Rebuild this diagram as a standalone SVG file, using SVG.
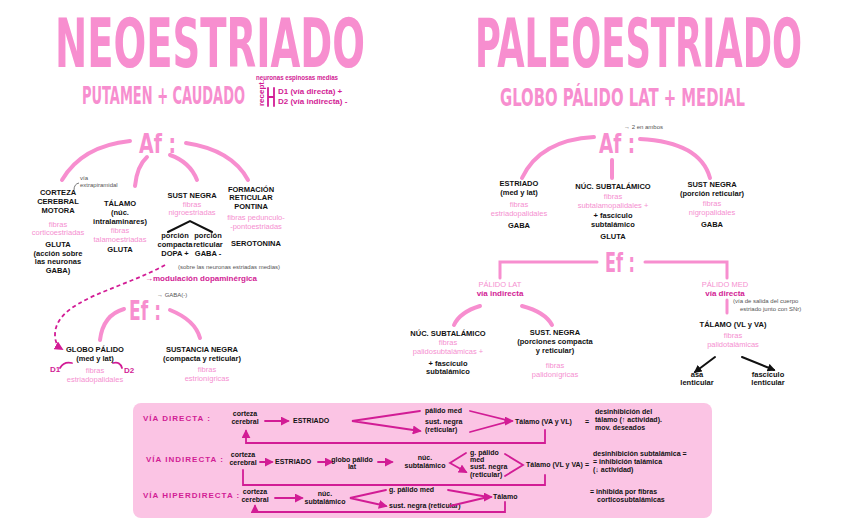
<svg xmlns="http://www.w3.org/2000/svg" width="848" height="530" viewBox="0 0 848 530">
<defs>
<style>
.title{font-family:"DejaVu Sans Condensed","DejaVu Sans",sans-serif;font-weight:bold;fill:#f78ecf}
.sub{font-family:"DejaVu Sans Condensed","DejaVu Sans",sans-serif;font-weight:bold;fill:#f78ecf}
.af{font-family:"DejaVu Sans Condensed","DejaVu Sans",sans-serif;font-weight:bold;fill:#f78ecf;font-size:20px}
.k{font-family:"Liberation Sans",sans-serif;font-weight:bold;fill:#111;font-size:7.5px;text-anchor:middle}
.p{font-family:"Liberation Sans",sans-serif;fill:#f590d0;font-size:7.5px;text-anchor:middle}
.m{font-family:"Liberation Sans",sans-serif;font-weight:bold;fill:#d21c95;font-size:8px}
.g{font-family:"Liberation Sans",sans-serif;fill:#555;font-size:6px}
.bk{font-family:"Liberation Sans",sans-serif;font-weight:bold;fill:#111;font-size:7px}
.bm{font-family:"Liberation Sans",sans-serif;font-weight:bold;fill:#d21c95;font-size:8px;letter-spacing:1px}
.arc{fill:none;stroke:#f78ecf;stroke-width:4;stroke-linecap:round}
.ln{fill:none;stroke:#f78ecf;stroke-width:3;stroke-linecap:round}
.bl{fill:none;stroke:#111;stroke-width:2;stroke-linecap:round}
.mg{fill:none;stroke:#d21c95;stroke-width:1.8;stroke-linecap:round}
</style>
<marker id="ah" viewBox="0 0 10 10" refX="8" refY="5" markerWidth="5" markerHeight="5" orient="auto"><path d="M0,0 L10,5 L0,10 z" fill="#d21c95"/></marker>
<marker id="ab" viewBox="0 0 10 10" refX="8" refY="5" markerWidth="4" markerHeight="4" orient="auto"><path d="M0,0 L10,5 L0,10 z" fill="#111"/></marker>
</defs>
<rect width="848" height="530" fill="#fff"/>

<!-- Titles -->
<g id="title-neo">
<text class="title" transform="translate(55,67) scale(1,1.64)" x="0" y="0" font-size="41.5" textLength="310" lengthAdjust="spacingAndGlyphs">NEOESTRIADO</text>
<text class="sub" transform="translate(82,104) scale(1,1.5)" x="0" y="0" font-size="16" textLength="163" lengthAdjust="spacingAndGlyphs">PUTAMEN + CAUDADO</text>
<text class="m" x="256" y="80" font-size="5.5" textLength="82" lengthAdjust="spacingAndGlyphs">neuronas espinosas medias</text>
<text class="m" x="264" y="106" font-size="4.5" transform="rotate(-90 264 106)">recept.</text>
<path class="mg" d="M268,88 L268,106 M268,97 L274,97 M274,88 L274,106"/>
<text class="m" x="278" y="94" font-size="6">D1 (vía directa) +</text>
<text class="m" x="278" y="104" font-size="6">D2 (vía indirecta) -</text>
</g>
<g id="title-paleo">
<text class="title" transform="translate(475,67) scale(1,1.84)" x="0" y="0" font-size="37" textLength="327" lengthAdjust="spacingAndGlyphs">PALEOESTRIADO</text>
<text class="sub" transform="translate(500,106) scale(1,1.47)" x="0" y="0" font-size="16.3" textLength="245" lengthAdjust="spacingAndGlyphs">GLOBO PÁLIDO LAT + MEDIAL</text>
</g>

<!-- Connectors -->
<g id="connectors">
<path class="arc" d="M130,141 Q82,146 62,180"/>
<path class="arc" d="M147,157 Q137,166 135,186"/>
<path class="arc" d="M170,155 Q190,162 197,180"/>
<path class="arc" d="M186,143 Q232,150 248,180"/>
<path class="bl" d="M168,232 L190,221 L212,232"/>
<path d="M165,265 C120,290 55,300 55,335 Q55,345 62,349" fill="none" stroke="#d21c95" stroke-width="1.8" stroke-dasharray="4,3" marker-end="url(#ah)"/>
<path class="arc" d="M124,309 Q103,315 100,340"/>
<path class="arc" d="M170,310 Q195,320 200,338"/>
<path class="mg" d="M60,368 Q64,361 72,363" stroke="#f590d0"/>
<path class="mg" d="M113,363 Q120,361 122,368" stroke="#f590d0"/>

<path class="arc" d="M594,137 Q540,140 522,178"/>
<path class="arc" d="M612,160 L612,178"/>
<path class="arc" d="M640,139 Q700,142 710,178"/>
<path class="ln" d="M597,262 L500,262 L500,278"/>
<path class="ln" d="M645,262 L727,262 L727,278"/>
<path class="arc" d="M480,306 Q460,312 454,325"/>
<path class="arc" d="M522,306 Q545,312 552,325"/>
<path class="ln" d="M727,300 L727,313"/>
<path class="bl" d="M715,357 L695,372" marker-end="url(#ab)"/>
<path class="bl" d="M742,357 L774,370" marker-end="url(#ab)"/>
</g>

<!-- Left tree -->
<g id="neo-af"><text class="af" transform="translate(139,153) scale(1,1.3)" x="0" y="0" textLength="37" lengthAdjust="spacingAndGlyphs">Af :</text></g>
<g id="corteza">
<text class="g" x="80" y="180">vía</text>
<text class="g" x="80" y="187">extrapiramidal</text>
<path d="M74,190 Q74,184 79,183" fill="none" stroke="#555" stroke-width="0.8"/>
<text class="k" x="58" y="195">CORTEZA</text>
<text class="k" x="58" y="204">CEREBRAL</text>
<text class="k" x="58" y="213">MOTORA</text>
<text class="p" x="58" y="227">fibras</text>
<text class="p" x="58" y="235">corticoestriadas</text>
<text class="k" x="58" y="247">GLUTA</text>
<text class="k" x="58" y="256">(acción sobre</text>
<text class="k" x="58" y="264">las neuronas</text>
<text class="k" x="58" y="273">GABA)</text>
</g>
<g id="talamo">
<text class="k" x="120" y="206">TÁLAMO</text>
<text class="k" x="120" y="215">(núc.</text>
<text class="k" x="120" y="224">intralaminares)</text>
<text class="p" x="120" y="233">fibras</text>
<text class="p" x="120" y="242">talamoestriadas</text>
<text class="k" x="120" y="252">GLUTA</text>
</g>
<g id="sust-negra">
<text class="k" x="192" y="198">SUST NEGRA</text>
<text class="p" x="192" y="207">fibras</text>
<text class="p" x="192" y="215">nigroestriadas</text>
<text class="k" x="175" y="238" font-size="5.5">porción</text>
<text class="k" x="175" y="246.5" font-size="5.5">compacta</text>
<text class="k" x="175" y="256" font-size="6.5">DOPA +</text>
<text class="k" x="208" y="238" font-size="5.5">porción</text>
<text class="k" x="208" y="246.5" font-size="5.5">reticular</text>
<text class="k" x="208" y="256" font-size="6.5">GABA -</text>
</g>
<g id="formacion">
<text class="k" x="251" y="192">FORMACIÓN</text>
<text class="k" x="251" y="200">RETICULAR</text>
<text class="k" x="251" y="209">PONTINA</text>
<text class="p" x="256" y="220">fibras pedunculo-</text>
<text class="p" x="256" y="229">-pontoestriadas</text>
<text class="k" x="256" y="246">SEROTONINA</text>
</g>
<g id="modulacion">
<text class="g" x="178" y="269">(sobre las neuronas estriadas medias)</text>
<text class="m" x="145" y="281" font-size="9">→modulación dopaminérgica</text>
</g>
<g id="neo-ef">
<text class="af" transform="translate(129,320) scale(1,1.3)" x="0" y="0" textLength="32" lengthAdjust="spacingAndGlyphs">Ef :</text>
<text class="g" x="157" y="297" font-size="6.5">→ GABA(-)</text>
</g>
<g id="globo-palido">
<text class="k" x="95" y="352">GLOBO PÁLIDO</text>
<text class="k" x="95" y="361">(med y lat)</text>
<text class="m" x="50" y="372" font-size="6.5">D1</text>
<text class="m" x="124" y="373" font-size="6.5">D2</text>
<text class="p" x="95" y="373">fibras</text>
<text class="p" x="95" y="382">estriadopalidales</text>
</g>
<g id="sustancia-negra">
<text class="k" x="202" y="352">SUSTANCIA NEGRA</text>
<text class="k" x="202" y="361">(compacta y reticular)</text>
<text class="p" x="207" y="372">fibras</text>
<text class="p" x="207" y="381">estrionígricas</text>
</g>

<!-- Right tree -->
<g id="paleo-af">
<text class="af" transform="translate(599,153) scale(1,1.3)" x="0" y="0" textLength="36" lengthAdjust="spacingAndGlyphs">Af :</text>
<text class="g" x="624" y="129" font-size="6.5">→ 2 en ambos</text>
</g>
<g id="estriado">
<text class="k" x="519" y="186">ESTRIADO</text>
<text class="k" x="519" y="195">(med y lat)</text>
<text class="p" x="519" y="207">fibras</text>
<text class="p" x="519" y="216">estriadopalidales</text>
<text class="k" x="519" y="228">GABA</text>
</g>
<g id="nuc-subtalamico">
<text class="k" x="613" y="189">NÚC. SUBTALÁMICO</text>
<text class="p" x="613" y="199">fibras</text>
<text class="p" x="613" y="208">subtalamopalidales +</text>
<text class="k" x="613" y="218" font-size="6.5">+ fascículo</text>
<text class="k" x="613" y="227" font-size="6.5">subtalámico</text>
<text class="k" x="613" y="239">GLUTA</text>
</g>
<g id="sust-negra-r">
<text class="k" x="712" y="187">SUST NEGRA</text>
<text class="k" x="712" y="196">(porción reticular)</text>
<text class="p" x="712" y="206">fibras</text>
<text class="p" x="712" y="215">nigropalidales</text>
<text class="k" x="712" y="227">GABA</text>
</g>
<g id="paleo-ef"><text class="af" transform="translate(605,272) scale(1,1.3)" x="0" y="0" textLength="30" lengthAdjust="spacingAndGlyphs">Ef :</text></g>
<g id="palido-lat">
<text class="p" x="500" y="287" font-size="8">PÁLIDO LAT</text>
<text class="m" x="500" y="296" font-size="7.5" text-anchor="middle">vía indirecta</text>
</g>
<g id="nuc-sub-2">
<text class="k" x="448" y="336">NÚC. SUBTALÁMICO</text>
<text class="p" x="448" y="345">fibras</text>
<text class="p" x="448" y="354">palidosubtalámicas +</text>
<text class="k" x="448" y="366" font-size="6.5">+ fascículo</text>
<text class="k" x="448" y="374" font-size="6.5">subtalámico</text>
</g>
<g id="sust-negra-2">
<text class="k" x="555" y="335">SUST. NEGRA</text>
<text class="k" x="555" y="344">(porciones compacta</text>
<text class="k" x="555" y="353">y reticular)</text>
<text class="p" x="555" y="368">fibras</text>
<text class="p" x="555" y="377">palidonígricas</text>
</g>
<g id="palido-med">
<text class="p" x="725" y="287" font-size="8">PÁLIDO MED</text>
<text class="m" x="725" y="296" font-size="7.5" text-anchor="middle">vía directa</text>
<text class="g" x="733" y="303" font-size="6.5">(vía de salida del cuerpo</text>
<text class="g" x="740" y="311" font-size="6.5">estriado junto con SNr)</text>
</g>
<g id="talamo-r">
<text class="k" x="733" y="327">TÁLAMO (VL y VA)</text>
<text class="p" x="733" y="338">fibras</text>
<text class="p" x="733" y="347">palidotalámicas</text>
<text class="k" x="697" y="377">asa</text>
<text class="k" x="697" y="385">lenticular</text>
<text class="k" x="768" y="377">fascículo</text>
<text class="k" x="768" y="385">lenticular</text>
</g>

<!-- Bottom box -->
<g id="vias">
<rect x="133" y="403" width="579" height="115" rx="8" fill="#fbc4e4"/>
<g id="via-directa">
<text class="bm" x="143" y="421">VÍA DIRECTA :</text>
<text class="bk" x="245" y="416" text-anchor="middle">corteza</text>
<text class="bk" x="245" y="424" text-anchor="middle">cerebral</text>
<path class="mg" d="M265,421 L288,421" marker-end="url(#ah)"/>
<text class="bk" x="293" y="423">ESTRIADO</text>
<path class="mg" d="M420,411 L352,421 L420,431" marker-end="url(#ah)"/>
<text class="bk" x="425" y="413">pálido med</text>
<text class="bk" x="425" y="424">sust. negra</text>
<text class="bk" x="425" y="432">(reticular)</text>
<path class="mg" d="M470,411 L510,421 L470,432"/>
<path class="mg" d="M505,421 L512,421" marker-end="url(#ah)"/>
<text class="bk" x="515" y="424">Tálamo (VA y VL)</text>
<text class="bk" x="585" y="424">=</text>
<text class="bk" x="595" y="414">desinhibición del</text>
<text class="bk" x="595" y="422">tálamo (↑ actividad).</text>
<text class="bk" x="595" y="430">mov. deseados</text>
<path class="mg" d="M545,430 L545,443 L246,443 L246,431" marker-end="url(#ah)"/>
</g>
<g id="via-indirecta">
<text class="bm" x="146" y="462">VÍA INDIRECTA :</text>
<text class="bk" x="243" y="457" text-anchor="middle">corteza</text>
<text class="bk" x="243" y="465" text-anchor="middle">cerebral</text>
<path class="mg" d="M260,462 L272,462" marker-end="url(#ah)"/>
<text class="bk" x="275" y="464">ESTRIADO</text>
<path class="mg" d="M318,462 L332,462" marker-end="url(#ah)"/>
<text class="bk" x="352" y="462" text-anchor="middle">globo pálido</text>
<text class="bk" x="352" y="469" text-anchor="middle">lat</text>
<path class="mg" d="M378,462 L392,462" marker-end="url(#ah)"/>
<text class="bk" x="425" y="460" text-anchor="middle">núc.</text>
<text class="bk" x="425" y="468" text-anchor="middle">subtalámico</text>
<path class="mg" d="M466,453 L450,463 L466,472" marker-end="url(#ah)"/>
<text class="bk" x="470" y="455">g. pálido</text>
<text class="bk" x="470" y="462">med</text>
<text class="bk" x="470" y="469">sust. negra</text>
<text class="bk" x="470" y="477">(reticular)</text>
<path class="mg" d="M505,454 L523,465 L505,476"/>
<text class="bk" x="526" y="467">Tálamo (VL y VA)</text>
<text class="bk" x="585" y="467">=</text>
<text class="bk" x="593" y="456">desinhibición subtalámica =</text>
<text class="bk" x="593" y="464">= inhibición talámica</text>
<text class="bk" x="593" y="472">(↓ actividad)</text>
<path class="mg" d="M545,475 L545,485 L243,485 L243,470"/>
</g>
<g id="via-hiperdirecta">
<text class="bm" x="143" y="498">VÍA HIPERDIRECTA :</text>
<text class="bk" x="255" y="494" text-anchor="middle">corteza</text>
<text class="bk" x="255" y="502" text-anchor="middle">cerebral</text>
<path class="mg" d="M275,498 L302,498" marker-end="url(#ah)"/>
<text class="bk" x="325" y="496" text-anchor="middle">núc.</text>
<text class="bk" x="325" y="504" text-anchor="middle">subtalámico</text>
<path class="mg" d="M386,490 L350,498 L386,506" marker-end="url(#ah)"/>
<text class="bk" x="389" y="492">g. pálido med</text>
<text class="bk" x="389" y="508">sust. negra (reticular)</text>
<path class="mg" d="M448,490 L488,497 L450,506"/>
<path class="mg" d="M484,497 L491,497" marker-end="url(#ah)"/>
<text class="bk" x="493" y="499">Tálamo</text>
<text class="bk" x="590" y="494">= inhibida por fibras</text>
<text class="bk" x="597" y="502">corticosubtalámicas</text>
<path class="mg" d="M505,502 L505,512 L255,512 L255,506" marker-end="url(#ah)"/>
</g>
</g>
</svg>
